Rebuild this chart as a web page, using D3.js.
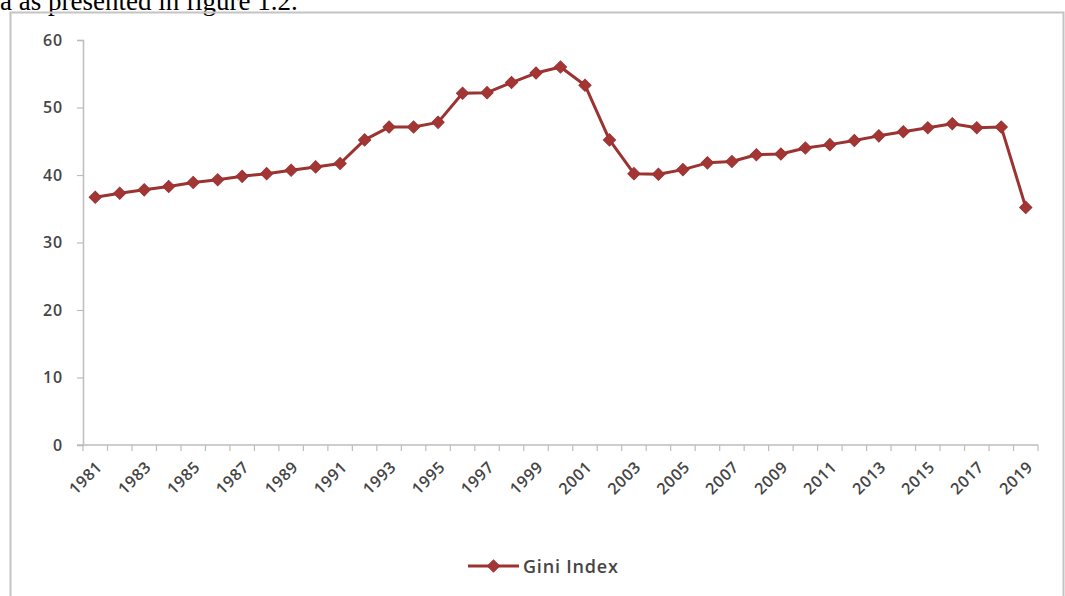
<!DOCTYPE html>
<html>
<head>
<meta charset="utf-8">
<script src="https://cdn.jsdelivr.net/npm/d3@7"></script>
<style>
  html, body { margin: 0; padding: 0; background: #fff; }
  svg { display: block; }
</style>
</head>
<body>
<svg id="chart" width="1065" height="596"></svg>
<script>
const years = d3.range(1981, 2020).map(String);
const giniValues = [
  36.7, 37.3, 37.8, 38.3, 38.9, 39.3, 39.8, 40.2, 40.7, 41.2,
  41.7, 45.2, 47.1, 47.1, 47.8, 52.1, 52.2, 53.7, 55.1, 56.0,
  53.3, 45.2, 40.2, 40.1, 40.8, 41.8, 42.0, 43.0, 43.1, 44.0,
  44.5, 45.1, 45.8, 46.4, 47.0, 47.6, 47.0, 47.1, 35.2
];
const yTicks = [0, 10, 20, 30, 40, 50, 60];
const seriesName = "Gini Index";
const captionText = "a as presented in figure 1.2.";

const svg = d3.select("#chart");
const color = "#9b3331";
const markerFill = "#a33634";
const textColor = "#454545";
const font = "'Open Sans', 'Liberation Sans', sans-serif";

// Caption text partially cut at top (as in the source)
svg.append("text")
  .attr("x", 0).attr("y", 10)
  .attr("font-family", "'Liberation Serif', 'Times New Roman', serif")
  .attr("font-size", 27)
  .attr("fill", "#000")
  .text(captionText);

// Chart frame
svg.append("path")
  .attr("d", "M10.5,600 V12.5 H1063.5 V600")
  .attr("fill", "none")
  .attr("stroke", "#c4c4c4")
  .attr("stroke-width", 2);

const margin = { left: 83, right: 1038, top: 40, bottom: 445 };

const x = d3.scaleBand().domain(years).range([margin.left, margin.right]).padding(0);
const y = d3.scaleLinear().domain([0, 60]).range([margin.bottom, margin.top]);

// Y axis
const yAxis = d3.axisLeft(y).tickValues(yTicks).tickSize(6).tickPadding(14);
const gy = svg.append("g").attr("transform", `translate(${margin.left},0)`).call(yAxis);
gy.select(".domain").attr("stroke", "#bdbdbd").attr("stroke-width", 1.5);
gy.selectAll(".tick line").attr("stroke", "#bdbdbd").attr("stroke-width", 1.2);
gy.selectAll(".tick text")
  .attr("font-family", font).attr("font-size", 16)
  .attr("font-weight", 600)
  .attr("letter-spacing", 0.8)
  .attr("fill", textColor);

// X axis: ticks at band boundaries
const gx = svg.append("g").attr("transform", `translate(0,${margin.bottom})`);
gx.append("line")
  .attr("x1", margin.left - 6).attr("x2", margin.right)
  .attr("y1", 0).attr("y2", 0)
  .attr("stroke", "#bdbdbd").attr("stroke-width", 1.5);
const boundaries = years.map(d => x(d)).concat([x(years[years.length - 1]) + x.bandwidth()]);
gx.selectAll("line.tk").data(boundaries).join("line")
  .attr("class", "tk")
  .attr("x1", d => d).attr("x2", d => d)
  .attr("y1", 0).attr("y2", 6)
  .attr("stroke", "#bdbdbd").attr("stroke-width", 1.2);

const labelYears = years.filter((d, i) => i % 2 === 0);
gx.selectAll("text.lbl").data(labelYears).join("text")
  .attr("class", "lbl")
  .attr("transform", d => `translate(${x(d) + x.bandwidth() / 2 + 5},${20}) rotate(-45)`)
  .attr("text-anchor", "end")
  .attr("dominant-baseline", "middle")
  .attr("font-family", font).attr("font-size", 16)
  .attr("font-weight", 600)
  .attr("letter-spacing", 0.6)
  .attr("fill", textColor)
  .text(d => d);

// Line
const data = years.map((yr, i) => ({ year: yr, value: giniValues[i] }));
const line = d3.line()
  .x(d => x(d.year) + x.bandwidth() / 2)
  .y(d => y(d.value));

svg.append("path")
  .datum(data)
  .attr("d", line)
  .attr("fill", "none")
  .attr("stroke", color)
  .attr("stroke-width", 3)
  .attr("stroke-linejoin", "round");

const marker = d3.symbol().type(d3.symbolSquare).size(74);
svg.selectAll("path.mk").data(data).join("path")
  .attr("class", "mk")
  .attr("d", marker)
  .attr("transform", d => `translate(${x(d.year) + x.bandwidth() / 2},${y(d.value)}) rotate(45)`)
  .attr("fill", markerFill)
  .attr("stroke", color)
  .attr("stroke-width", 1);

// Legend
const lg = svg.append("g").attr("transform", "translate(468,566)");
lg.append("line").attr("x1", 0).attr("x2", 51).attr("y1", 0).attr("y2", 0)
  .attr("stroke", color).attr("stroke-width", 3);
lg.append("path").attr("d", marker)
  .attr("transform", "translate(25.5,0) rotate(45)")
  .attr("fill", markerFill).attr("stroke", color).attr("stroke-width", 1);
lg.append("text")
  .attr("x", 55).attr("y", 0)
  .attr("dominant-baseline", "central")
  .attr("font-family", font).attr("font-size", 18)
  .attr("font-weight", 600)
  .attr("letter-spacing", 0.8)
  .attr("fill", textColor)
  .text(seriesName);
</script>
</body>
</html>
